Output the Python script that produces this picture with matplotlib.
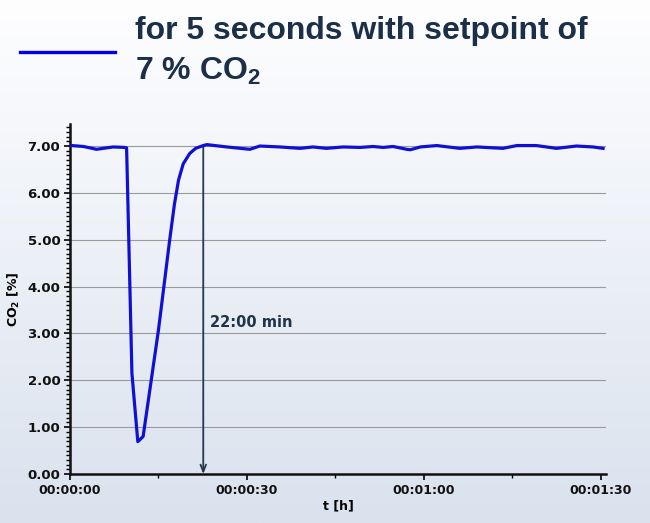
import numpy as np
import matplotlib
matplotlib.use('Agg')
import matplotlib.pyplot as plt
from matplotlib.ticker import MultipleLocator, FixedLocator
from matplotlib.lines import Line2D

# CO2 trace (time in seconds, CO2 in %)
t_sec = [0.3, 2.3, 4.5, 7.3, 9.3, 9.6, 10.5, 11.5, 12.4, 15.0, 16.9, 17.7, 18.4,
         19.2, 20.3, 21.3, 22.6, 23.2, 26.6, 30.5, 32.2, 35.6, 39.0, 41.2, 43.5,
         46.3, 49.2, 51.4, 53.1, 54.8, 57.1, 57.7, 59.4, 62.2, 66.1, 69.0, 73.4,
         75.8, 79.1, 82.5, 85.9, 88.7, 90.4]
co2 = [7.01, 6.99, 6.93, 6.98, 6.97, 6.96, 2.15, 0.69, 0.80, 3.07, 4.99, 5.75, 6.27,
       6.62, 6.84, 6.95, 7.01, 7.03, 6.98, 6.93, 7.00, 6.98, 6.95, 6.98, 6.95,
       6.98, 6.97, 6.99, 6.97, 6.99, 6.93, 6.92, 6.98, 7.01, 6.95, 6.98, 6.95,
       7.01, 7.01, 6.95, 7.00, 6.98, 6.95]

x_ticks = [0, 30, 60, 90]
x_labels = ['00:00:00', '00:00:30', '00:01:00', '00:01:30']
y_ticks = [0, 1, 2, 3, 4, 5, 6, 7]
y_labels = ['0.00', '1.00', '2.00', '3.00', '4.00', '5.00', '6.00', '7.00']
recovery_t = 22.6
recovery_label = '22:00 min'

plt.rcParams['font.family'] = 'DejaVu Sans'
plt.rcParams['mathtext.default'] = 'regular'

fig = plt.figure(figsize=(6.5, 5.23), dpi=100)

# light background gradient
bg = fig.add_axes([0, 0, 1, 1], zorder=-10)
top = np.array([254, 254, 255]) / 255
bot = np.array([218, 226, 238]) / 255
g = np.linspace(0, 1, 256)[:, None]
img = top[None, None, :] * (1 - g[:, :, None]) + bot[None, None, :] * g[:, :, None]
bg.imshow(np.repeat(img, 2, axis=1), aspect='auto', extent=[0, 1, 0, 1])
bg.axis('off')

# title / legend entry
fig.add_artist(Line2D([0.031, 0.177], [0.9006, 0.9006], color='#0000ee', lw=2.4,
                      transform=fig.transFigure))
fig.text(0.2077, 0.925, 'for 5 seconds with setpoint of', fontsize=23,
         family='Liberation Sans', fontweight='bold', color='#1b2f48', va='baseline')
fig.text(0.2077, 0.848, '7 % CO$_2$', fontsize=23,
         family='Liberation Sans', fontweight='bold', color='#1b2f48', va='baseline')

ax = fig.add_axes([0.1077, 0.0937, 0.8246, 0.6692])
ax.set_facecolor('none')
ax.plot(t_sec, co2, color='#1010d4', lw=2.3, solid_joinstyle='round', zorder=3)

ax.set_xlim(0, 90.9)
ax.set_ylim(0, 7.47)
ax.set_xticks(x_ticks)
ax.set_xticklabels(x_labels, fontsize=9, fontweight='bold', color='#111111')
ax.set_yticks(y_ticks)
ax.set_yticklabels(y_labels, fontsize=9.5, fontweight='bold', color='#111111')
ax.xaxis.set_minor_locator(FixedLocator([15, 45, 75]))
ax.yaxis.set_minor_locator(MultipleLocator(0.1))
ax.tick_params(axis='both', which='major', direction='out', length=4, width=1.2, pad=3)
ax.tick_params(axis='both', which='minor', direction='out', length=3, width=1.0)

ax.grid(axis='y', color='#9a9a9a', lw=0.8)
ax.set_axisbelow(True)
for s in ['top', 'right']:
    ax.spines[s].set_visible(False)
for s in ['left', 'bottom']:
    ax.spines[s].set_linewidth(1.8)
    ax.spines[s].set_color('#111111')

ax.set_xlabel('t [h]', fontsize=9, fontweight='bold', labelpad=2)
ax.set_ylabel('CO$_2$ [%]', fontsize=9, fontweight='bold', labelpad=4)

ax.annotate('', xy=(recovery_t, 0), xytext=(recovery_t, 7.0),
            arrowprops=dict(arrowstyle='->,head_length=0.5,head_width=0.2',
                            color='#23384d', lw=1.3, shrinkA=0, shrinkB=0), zorder=2)
ax.text(recovery_t + 1.1, 3.24, recovery_label, fontsize=10.5, fontweight='bold',
        color='#1f3349', va='center', ha='left')

fig.savefig('out.png', dpi=100)
